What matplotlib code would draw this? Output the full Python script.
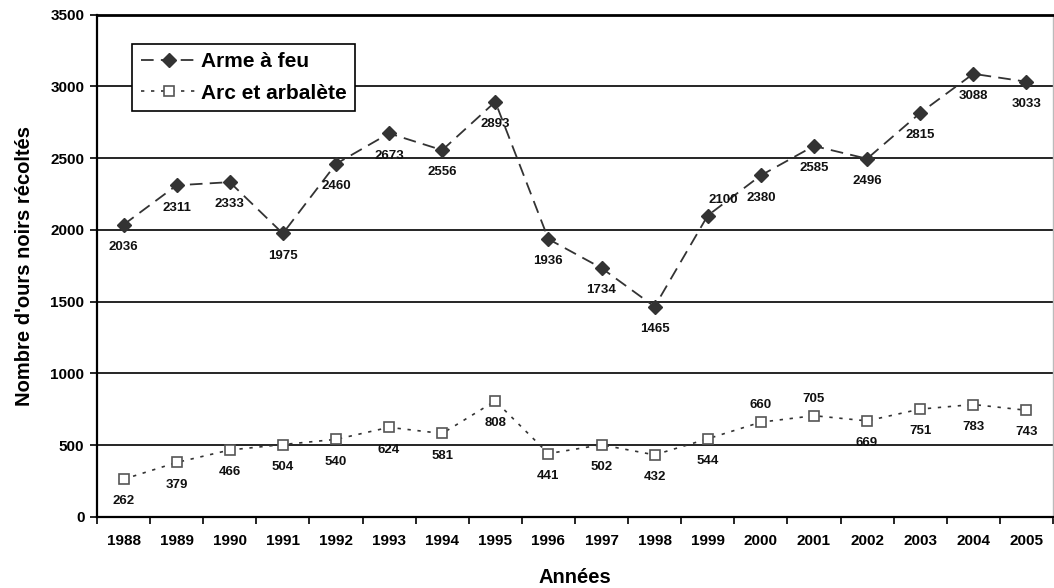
import numpy as np
import matplotlib.pyplot as plt

plt.rcParams['font.family'] = ['Liberation Sans', 'DejaVu Sans']

# Data
annees = ['1988', '1989', '1990', '1991', '1992', '1993', '1994', '1995', '1996',
          '1997', '1998', '1999', '2000', '2001', '2002', '2003', '2004', '2005']
arme_feu = [2036, 2311, 2333, 1975, 2460, 2673, 2556, 2893, 1936,
            1734, 1465, 2100, 2380, 2585, 2496, 2815, 3088, 3033]
arc_arbalete = [262, 379, 466, 504, 540, 624, 581, 808, 441,
                502, 432, 544, 660, 705, 669, 751, 783, 743]

x = np.arange(len(annees))

fig = plt.figure(figsize=(10.54, 5.88), dpi=100)
ax = fig.add_axes([0.092, 0.121, 0.907, 0.854])

# Series
ax.plot(x, arme_feu, color='#333333', lw=1.3, dashes=(7, 4),
        marker='D', ms=7, mfc='#333333', mec='#333333', label='Arme à feu', zorder=3)
ax.plot(x, arc_arbalete, color='#333333', lw=1.2, dashes=(2, 4),
        marker='s', ms=7, mfc='white', mec='#555555', mew=1.2,
        label='Arc et arbalète', zorder=3)

# Data labels (offsets in points)
lab_style = dict(ha='center', va='center', fontsize=9.5, fontweight='bold', color='#111111')
for i, v in enumerate(arme_feu):
    off = (11, 11) if annees[i] == '1999' else (0, -16)
    ax.annotate(str(v), (x[i], v), xytext=off, textcoords='offset points', **lab_style)
for i, v in enumerate(arc_arbalete):
    off = (0, 12) if annees[i] in ('2000', '2001') else (0, -16)
    ax.annotate(str(v), (x[i], v), xytext=off, textcoords='offset points', **lab_style)

# Axes
ax.set_xlim(-0.5, len(annees) - 0.5)
ax.set_ylim(0, 3500)
ax.set_yticks(np.arange(0, 3501, 500))
ax.yaxis.grid(True, color='black', lw=1.2)
ax.set_axisbelow(True)

ax.set_xticks(x)
ax.set_xticklabels(annees)
ax.set_xticks(np.arange(-0.5, len(annees), 1), minor=True)
ax.tick_params(axis='x', which='major', length=0, pad=12, labelsize=11)
ax.tick_params(axis='x', which='minor', length=5, width=1.2, direction='out')
ax.tick_params(axis='y', length=5, width=1.2, direction='out', labelsize=11, pad=4)
for lab in ax.get_xticklabels() + ax.get_yticklabels():
    lab.set_fontweight('bold')

ax.spines['left'].set_linewidth(1.6)
ax.spines['bottom'].set_linewidth(1.6)
ax.spines['top'].set_linewidth(2)
ax.spines['right'].set_color('#bbbbbb')
ax.spines['right'].set_linewidth(1)

ax.set_xlabel('Années', fontsize=14.5, fontweight='bold', va='center')
ax.set_ylabel("Nombre d'ours noirs récoltés", fontsize=14.5, fontweight='bold', va='center')
ax.xaxis.set_label_coords(0.5, -0.12)
ax.yaxis.set_label_coords(-0.076, 0.5)

leg = ax.legend(loc='upper left', bbox_to_anchor=(0.037, 0.942), borderaxespad=0,
                fancybox=False, edgecolor='black', framealpha=1,
                prop={'size': 15, 'weight': 'bold'},
                handlelength=2.7, borderpad=0.4, labelspacing=0.6, handletextpad=0.2)
leg.get_frame().set_linewidth(1.2)

fig.savefig('out.png', dpi=100)
